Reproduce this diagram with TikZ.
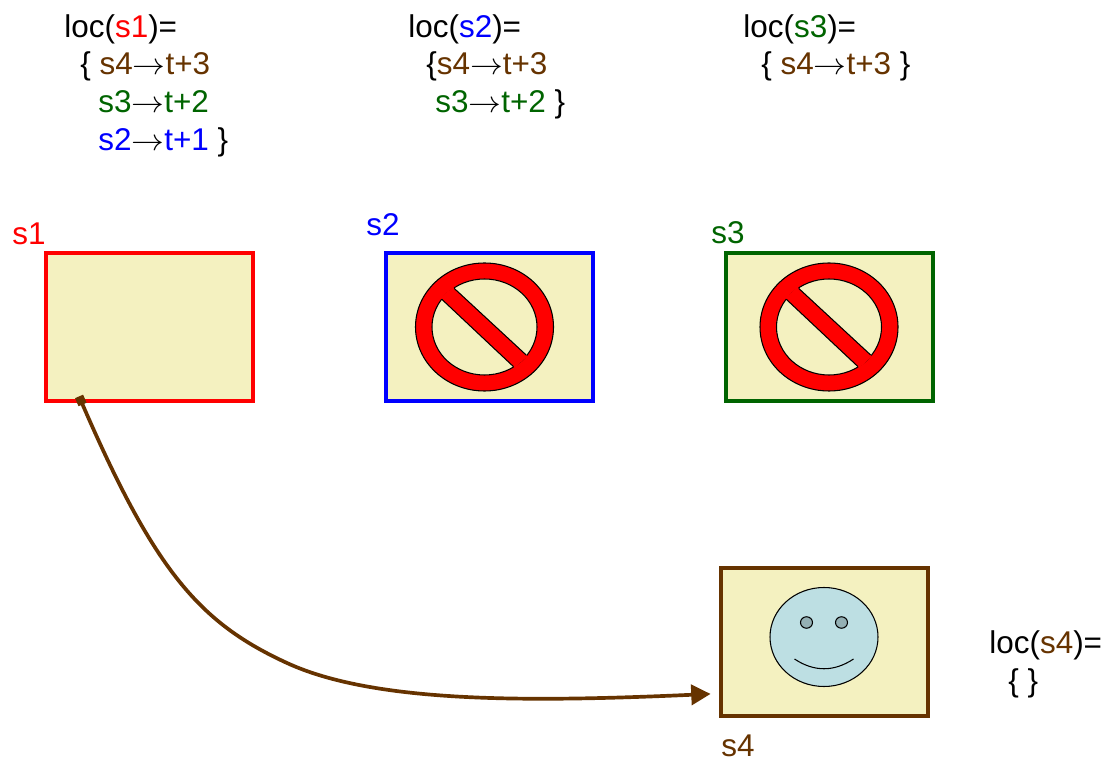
\documentclass[tikz,border=0pt]{standalone}
\usepackage{fontspec}
\setmainfont{Liberation Sans}
\usepackage{tikz}
\usetikzlibrary{arrows.meta,calc,positioning}
\definecolor{boxfill}{RGB}{244,241,192}
\definecolor{faceblue}{RGB}{189,223,227}
\definecolor{eyegrey}{RGB}{148,176,180}
\definecolor{sone}{RGB}{255,0,0}
\definecolor{stwo}{RGB}{0,0,255}
\definecolor{sthree}{RGB}{0,100,0}
\definecolor{sfour}{RGB}{102,51,0}
\newcommand{\goesto}{\scalebox{1.08}[1.0]{$\rightarrow$}}

\begin{document}
\begin{tikzpicture}[
  site/.style={draw, rectangle, fill=boxfill, line width=2.2pt, minimum width=4.14cm, minimum height=2.96cm},
  txt/.style={anchor=base west, inner sep=0pt, font=\fontsize{17.9}{20}\selectfont},
  flow/.style={draw=sfour, line width=2.1pt, {Square[length=5pt,width=5pt]}-{Triangle[length=11pt,width=11.5pt]}},
  nosign/.pic={
    \draw[fill=red, line width=0.6pt] (0,0) ellipse (1.38 and 1.28);
    \draw[fill=boxfill, line width=0.6pt] (0,0) ellipse (1.05 and 0.96);
    \fill[red] (-0.88,0.58) -- (-0.63,0.80) -- (0.86,-0.585) -- (0.605,-0.82) -- cycle;
    \draw[line width=0.6pt] (-0.853,0.553) -- (0.58,-0.793);
    \draw[line width=0.6pt] (-0.607,0.773) -- (0.833,-0.56);
  }]

\useasboundingbox (0,0) rectangle (22.2,15.24);

% sites
\node[site, draw=sone]   (sitea) at (2.99,8.70)  {};
\node[site, draw=stwo]   (siteb) at (9.79,8.70)  {};
\node[site, draw=sthree] (sitec) at (16.59,8.70) {};
\node[site, draw=sfour]  (sited) at (16.49,2.40) {};

\pic at (9.69,8.70)  {nosign};
\pic at (16.58,8.70) {nosign};

% face
\draw[fill=faceblue, line width=0.6pt] (16.48,2.50) ellipse (1.08 and 0.99);
\draw[fill=eyegrey, line width=0.6pt] (16.13,2.79) ellipse (0.12 and 0.115);
\draw[fill=eyegrey, line width=0.6pt] (16.83,2.79) ellipse (0.12 and 0.115);
\draw[line width=0.6pt] (15.89,2.06) .. controls (16.28,1.80) and (16.68,1.80) .. (17.07,2.06);

\node[txt, text=sone]   (labela) at (0.24,10.34)  {s1};
\node[txt, text=stwo]   (labelb) at (7.32,10.52)  {s2};
\node[txt, text=sthree] (labelc) at (14.22,10.36) {s3};
\node[txt, text=sfour]  (labeld) at (14.42,0.12)  {s4};

% locks
\node[txt] (loca)  at (1.28,14.48) {loc(\textcolor{sone}{s1})=};
\node[txt] (loca1) at (1.60,13.75) {\{ \textcolor{sfour}{s4}\goesto\textcolor{sfour}{t+3}};
\node[txt] (loca2) at (1.96,12.99) {\textcolor{sthree}{s3}\goesto\textcolor{sthree}{t+2}};
\node[txt] (loca3) at (1.96,12.23) {\textcolor{stwo}{s2}\goesto\textcolor{stwo}{t+1} \}};

\node[txt] (locb)  at (8.16,14.48) {loc(\textcolor{stwo}{s2})=};
\node[txt] (locb1) at (8.52,13.75) {\{\textcolor{sfour}{s4}\goesto\textcolor{sfour}{t+3}};
\node[txt] (locb2) at (8.70,12.99) {\textcolor{sthree}{s3}\goesto\textcolor{sthree}{t+2} \}};

\node[txt] (locc)  at (14.86,14.48) {loc(\textcolor{sthree}{s3})=};
\node[txt] (locc1) at (15.22,13.75) {\{ \textcolor{sfour}{s4}\goesto\textcolor{sfour}{t+3} \}};

\node[txt] (locd)  at (19.78,2.18) {loc(\textcolor{sfour}{s4})=};
\node[txt] (locd1) at (20.16,1.42) {\{ \}};

% transfer
\draw[flow] ([xshift=0.70cm,yshift=0.13cm]sitea.south west)
  .. controls (3.10,3.80) and (4.00,2.78) .. (5.74,1.98)
  .. controls (7.50,1.17) and (10.60,1.20) .. ([xshift=-0.17cm,yshift=0.48cm]sited.south west);

\end{tikzpicture}
\end{document}
